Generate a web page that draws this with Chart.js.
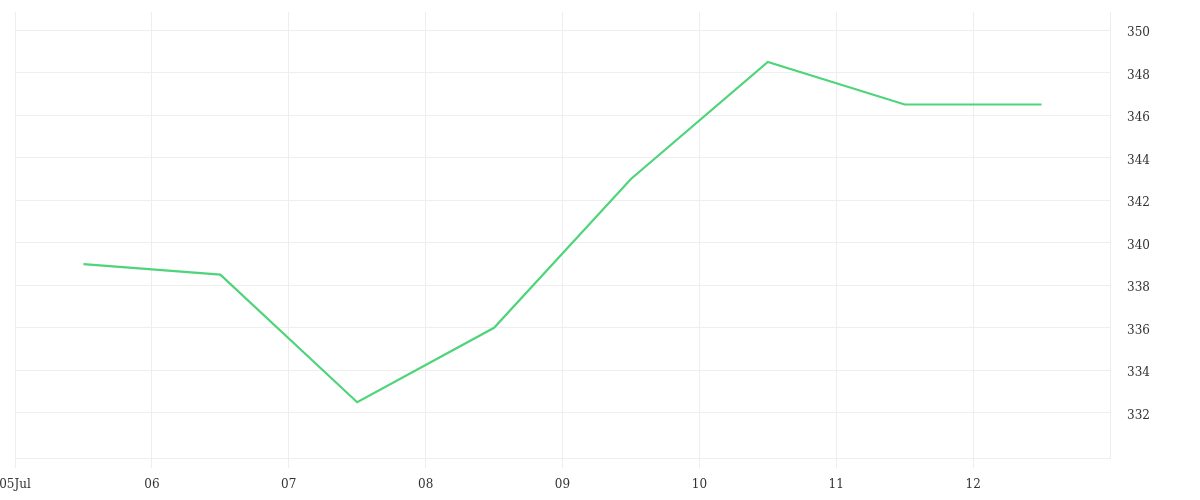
<!DOCTYPE html>
<html>
<head>
<meta charset="utf-8">
<script src="https://cdn.jsdelivr.net/npm/chart.js@4"></script>
<style>
  html, body { margin: 0; padding: 0; background: #fff; }
  #wrap { width: 1200px; height: 500px; }
</style>
</head>
<body>
<div id="wrap"><canvas id="chart"></canvas></div>
<script>
// days since 05 Jul 00:00, points sit at midday
const dayLabels = ["05Jul", "06", "07", "08", "09", "10", "11", "12", "13"];
const pointDays = [0.5, 1.5, 2.5, 3.5, 4.5, 5.5, 6.5, 7.5];
const values = [339, 338.5, 332.5, 336, 343, 348.5, 346.5, 346.5];
const yTicks = [332, 334, 336, 338, 340, 342, 344, 346, 348, 350];

const points = pointDays.map((d, i) => ({ x: d, y: values[i] }));

Chart.defaults.font.family = "'DejaVu Serif', serif";
Chart.defaults.font.size = 12;
Chart.defaults.color = "#333";

const config = {
  type: 'line',
  data: {
    datasets: [{
      data: points,
      borderColor: "#4ed47a",
      borderWidth: 2.2,
      pointRadius: 0,
      tension: 0,
      fill: false
    }]
  },
  options: {
    responsive: true,
    maintainAspectRatio: false,
    animation: false,
    layout: { padding: { top: 12, left: 0, right: 0, bottom: 0 } },
    plugins: {
      legend: { display: false },
      tooltip: { enabled: false }
    },
    scales: {
      x: {
        type: 'linear',
        min: 0,
        max: 8,
        afterBuildTicks: (axis) => {
          axis.ticks = dayLabels.slice(0, 8).map((_, i) => ({ value: i }));
        },
        afterFit: (axis) => {
          axis.paddingLeft = 15;
          axis.paddingRight = 0;
          axis.height = 42;
        },
        ticks: {
          autoSkip: false,
          maxRotation: 0,
          padding: 10,
          callback: (v) => dayLabels[v]
        },
        grid: { color: "#eeeeee", tickLength: 10 },
        border: { color: "#eeeeee" }
      },
      y: {
        position: 'right',
        min: 329.88,
        max: 350.85,
        afterBuildTicks: (axis) => {
          axis.ticks = yTicks.map(v => ({ value: v }));
        },
        afterFit: (axis) => { axis.width = 90; axis.paddingTop = 0; axis.paddingBottom = 0; },
        ticks: { padding: 17, labelOffset: 3 },
        grid: { color: "#eeeeee", drawTicks: false },
        border: { color: "#eeeeee" }
      }
    }
  }
};
new Chart("chart", config);
</script>
</body>
</html>
